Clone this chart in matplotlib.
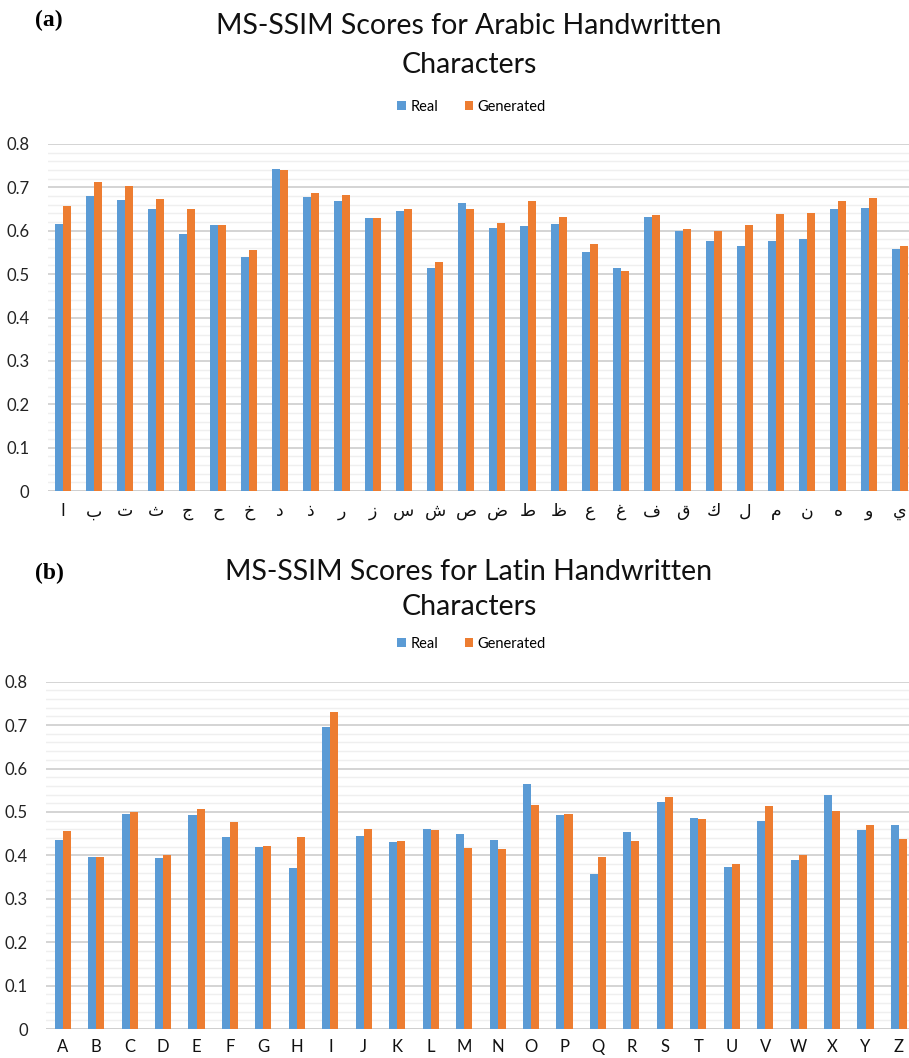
import matplotlib
matplotlib.use("Agg")
import matplotlib.pyplot as plt
import numpy as np

# MS-SSIM per character, real vs generated samples
arabic_chars = ["ا", "ب", "ت", "ث", "ج", "ح", "خ", "د", "ذ", "ر", "ز", "س", "ش", "ص",
                "ض", "ط", "ظ", "ع", "غ", "ف", "ق", "ك", "ل", "م", "ن", "ه", "و", "ي"]
arabic_real = [0.615, 0.680, 0.672, 0.649, 0.592, 0.613, 0.540, 0.743, 0.678, 0.668,
               0.629, 0.646, 0.515, 0.663, 0.607, 0.610, 0.615, 0.550, 0.515, 0.632,
               0.599, 0.577, 0.565, 0.577, 0.580, 0.651, 0.653, 0.559]
arabic_gen = [0.657, 0.713, 0.703, 0.674, 0.650, 0.613, 0.556, 0.740, 0.686, 0.682,
              0.629, 0.649, 0.529, 0.650, 0.617, 0.668, 0.632, 0.569, 0.508, 0.636,
              0.603, 0.599, 0.613, 0.638, 0.640, 0.669, 0.676, 0.564]

latin_chars = list("ABCDEFGHIJKLMNOPQRSTUVWXYZ")
latin_real = [0.436, 0.396, 0.496, 0.393, 0.492, 0.442, 0.419, 0.370, 0.696, 0.444,
              0.430, 0.460, 0.450, 0.436, 0.564, 0.494, 0.357, 0.454, 0.522, 0.486,
              0.373, 0.478, 0.390, 0.538, 0.459, 0.469]
latin_gen = [0.456, 0.396, 0.500, 0.400, 0.506, 0.476, 0.421, 0.442, 0.731, 0.460,
             0.432, 0.459, 0.416, 0.414, 0.515, 0.496, 0.396, 0.432, 0.535, 0.483,
             0.379, 0.514, 0.400, 0.502, 0.469, 0.438]

BLUE = "#5B9BD5"
ORANGE = "#ED7D31"
FONT = ["Lato", "DejaVu Sans"]

W, H = 909, 1058
fig = plt.figure(figsize=(W / 100, H / 100), dpi=100)


def px_axes(left, right, top, bottom):
    # axes rectangle given in pixel coordinates (origin top-left)
    return fig.add_axes([left / W, 1 - bottom / H, (right - left) / W, (bottom - top) / H])


def bar_panel(ax, chars, real, gen, width, label_size, xpad):
    x = np.arange(len(chars))
    ax.bar(x - width / 2, real, width, color=BLUE, label="Real", zorder=3)
    ax.bar(x + width / 2, gen, width, color=ORANGE, label="Generated", zorder=3)
    ax.set_xlim(-0.5, len(chars) - 0.5)
    ax.set_ylim(0, 0.8)
    ax.set_yticks(np.arange(0, 0.81, 0.1))
    ax.set_yticklabels(["0"] + [f"{v:.1f}" for v in np.arange(0.1, 0.81, 0.1)],
                       family=FONT, fontsize=12, color="#222222")
    ax.set_yticks(np.arange(0, 0.8, 0.02), minor=True)
    ax.grid(which="major", axis="y", color="#d4d4d4", lw=1.4, zorder=0)
    ax.grid(which="minor", axis="y", color="#efefef", lw=1.0, zorder=0)
    ax.set_xticks(x)
    ax.set_xticklabels(chars, family=FONT, fontsize=label_size, color="#111111")
    ax.tick_params(which="both", length=0)
    ax.tick_params(axis="y", pad=13)
    ax.tick_params(axis="x", pad=xpad)
    for s in ax.spines.values():
        s.set_visible(False)
    ax.axhline(0, color="#cfcfcf", lw=1.4, zorder=2)
    return ax


ax1 = px_axes(47.5, 915.5, 144, 491)
bar_panel(ax1, arabic_chars, arabic_real, arabic_gen, 0.26, 12.5, 9)

ax2 = px_axes(46, 915.7, 681.7, 1029)
bar_panel(ax2, latin_chars, latin_real, latin_gen, 0.24, 12, 7)

# panel titles, tags and legends
cx = 469 / W
for y, text in ((26, "MS-SSIM Scores for Arabic Handwritten"), (65, "Characters"),
                (572, "MS-SSIM Scores for Latin Handwritten"), (607, "Characters")):
    fig.text(cx, 1 - y / H, text, ha="center", va="center",
             family=FONT, fontsize=20.5, color="#111111")

for y, tag in ((20, "(a)"), (573, "(b)")):
    fig.text(35 / W, 1 - y / H, tag, ha="left", va="center",
             family="Liberation Serif", fontweight="bold", fontsize=17)

for ax, ly in ((ax1, 107), (ax2, 644)):
    h, l = ax.get_legend_handles_labels()
    fig.legend(h, l, loc="center", bbox_to_anchor=(cx + 0.003, 1 - ly / H), ncol=2,
               frameon=False, prop={"family": FONT, "size": 10.5}, handlelength=0.6,
               handleheight=0.6, handletextpad=0.3, columnspacing=1.8)

fig.savefig("out.png", dpi=100)
